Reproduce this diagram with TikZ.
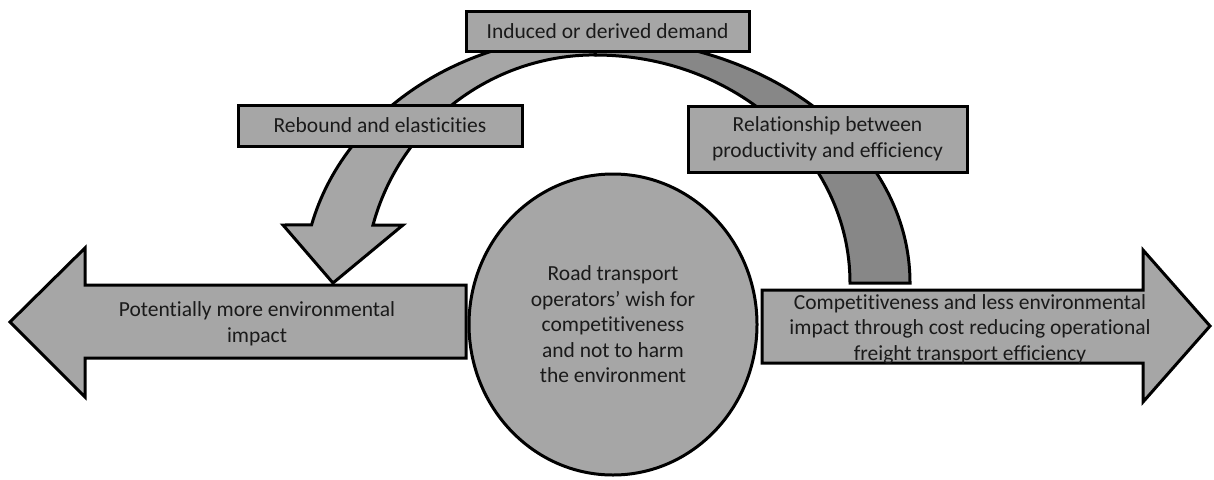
\documentclass[tikz,border=0pt]{standalone}
\usepackage{fontspec}
\setmainfont{Carlito}[Ligatures=NoCommon]
\usetikzlibrary{shapes.geometric}
\definecolor{LightGrey}{HTML}{A6A6A6}
\definecolor{DarkGrey}{HTML}{878787}
\definecolor{InkGrey}{HTML}{1A1A1A}

\begin{document}
\begin{tikzpicture}[x=1pt, y=-1pt, line width=3pt, line join=miter,
  every node/.style={font=\fontsize{21.5}{25.5}\selectfont, text=InkGrey, align=center},
  box/.style={draw, fill=LightGrey, rectangle, inner sep=0pt},
  blob/.style={draw, fill=LightGrey, ellipse, inner sep=0pt}]
  \useasboundingbox (0,0) rectangle (1214,479);

  \coordinate (Hub) at (595,285);

  \draw[fill=LightGrey] (466,285) -- (85,285) -- (85,248) -- (10,322)
    -- (85,397) -- (85,358) -- (466,358) -- cycle;
  \draw[fill=LightGrey] (762,290) -- (1143,290) -- (1143,250) -- (1210,326)
    -- (1143,402) -- (1143,363) -- (762,363) -- cycle;

  \draw[fill=DarkGrey] (850,283)
    arc[start angle=0, end angle=-90, x radius=255, y radius=228]
    -- (595,38)
    arc[start angle=-90, end angle=0, x radius=315, y radius=245] -- cycle;
  \draw[fill=LightGrey] (595,35)
    arc[start angle=-90, end angle=-166.1, x radius=292, y radius=250]
    -- (283,225) -- (333,283) -- (403,225) -- (373,225)
    arc[start angle=-164.9, end angle=-90, x radius=230, y radius=230] -- cycle;

  \node (Impact) at (257,324) {Potentially more environmental\\impact};
  \node (Efficiency) at (970,329) {Competitiveness and less environmental\\impact through cost reducing operational\\freight transport efficiency};

  \node[blob, minimum width=288, minimum height=301] (Operators) at (613,324.5)
    {Road transport\\operators’ wish for\\competitiveness\\and not to harm\\the environment};

  \node[box, minimum width=283, minimum height=40] (Induced) at (607.5,31) {Induced or derived demand};
  \node[box, minimum width=284, minimum height=41] (Rebound) at (380,125.5) {Rebound and elasticities};
  \node[box, minimum width=279, minimum height=66] (Relation) at (827.5,139) {Relationship between\\productivity and efficiency};
\end{tikzpicture}
\end{document}
